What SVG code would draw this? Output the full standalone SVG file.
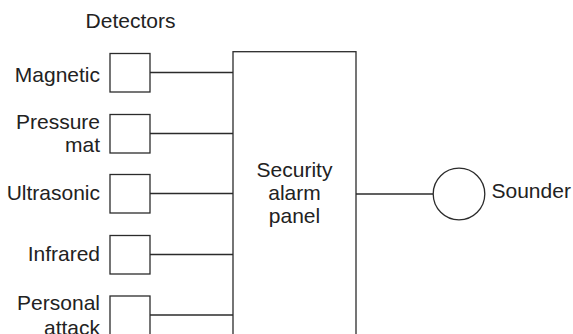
<svg xmlns="http://www.w3.org/2000/svg" width="573" height="334" viewBox="0 0 573 334">
<style>
.box{fill:#fff;stroke:#2b2b2b;stroke-width:1.3}
.ln{stroke:#2b2b2b;stroke-width:1.3;fill:none}
text{font-family:"Liberation Sans",Arial,sans-serif;font-size:21px;fill:#222}
.e{text-anchor:end}
.m{text-anchor:middle}
</style>
<rect width="573" height="334" fill="#fff"/>
<text id="title" class="m" x="130.5" y="27.5">Detectors</text>
<g id="connectors">
<line class="ln" x1="150" y1="72.5" x2="233" y2="72.5"/>
<line class="ln" x1="150" y1="133.5" x2="233" y2="133.5"/>
<line class="ln" x1="150" y1="193.5" x2="233" y2="193.5"/>
<line class="ln" x1="150" y1="254.5" x2="233" y2="254.5"/>
<line class="ln" x1="150" y1="315" x2="233" y2="315"/>
<line class="ln" x1="356" y1="194" x2="433" y2="194"/>
</g>
<g id="magnetic"><rect class="box" x="110" y="53.5" width="40" height="38.5"/><text class="e" x="100" y="81.5">Magnetic</text></g>
<g id="pressure"><rect class="box" x="110" y="114.5" width="40" height="38.5"/><text class="e" x="100" y="128.5">Pressure</text><text class="e" x="100" y="152.3">mat</text></g>
<g id="ultrasonic"><rect class="box" x="110" y="174.5" width="40" height="38.5"/><text class="e" x="100" y="200">Ultrasonic</text></g>
<g id="infrared"><rect class="box" x="110" y="235.5" width="40" height="38.5"/><text class="e" x="100" y="261">Infrared</text></g>
<g id="personal"><rect class="box" x="110" y="296" width="40" height="45"/><text class="e" x="100" y="309.5">Personal</text><text class="e" x="100" y="334.5">attack</text></g>
<g id="panel"><rect class="box" x="233" y="51.7" width="123" height="295"/><text class="m" x="294.5" y="176.7">Security</text><text class="m" x="294.5" y="200">alarm</text><text class="m" x="294.5" y="223.3">panel</text></g>
<g id="sounder"><circle class="box" cx="459" cy="194" r="25.8"/><text x="491.5" y="198">Sounder</text></g>
</svg>
